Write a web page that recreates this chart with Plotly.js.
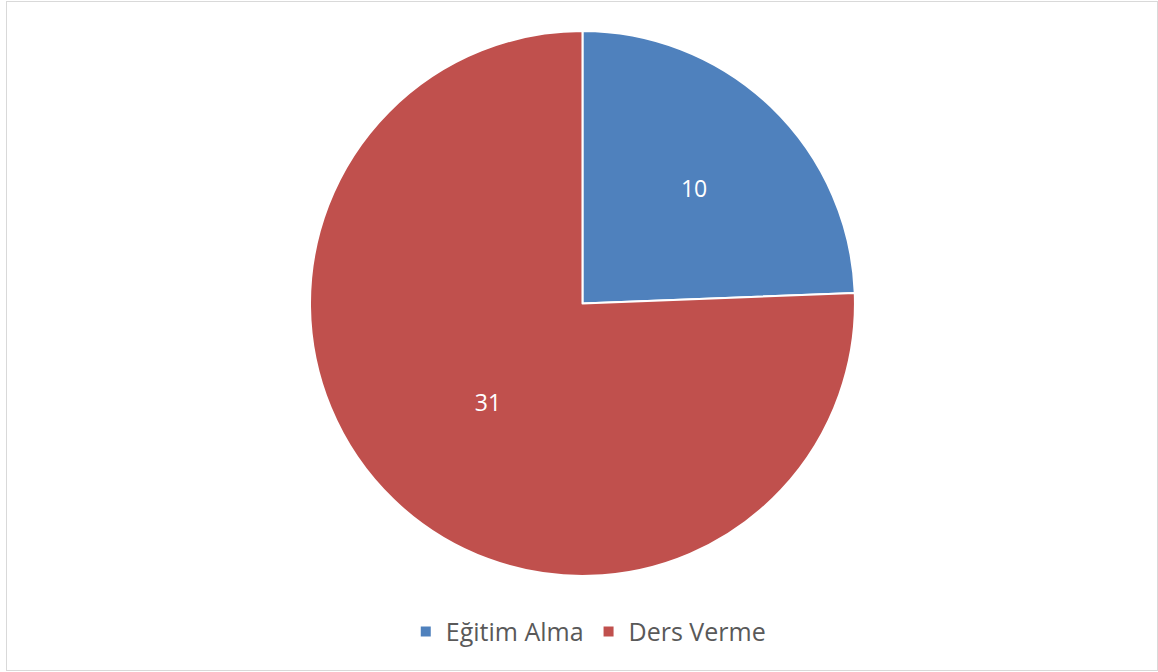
<!DOCTYPE html>
<html>
<head>
<meta charset="utf-8">
<script src="https://cdn.plot.ly/plotly-3.0.1.min.js"></script>
<style>
html,body{margin:0;padding:0;background:#fff;}
#frame{position:absolute;left:6px;top:1px;width:1150px;height:668px;border:1px solid #d9d9d9;}
#chart{position:absolute;left:0;top:0;width:1158px;height:672px;}
</style>
</head>
<body>
<div id="frame"></div>
<div id="chart"></div>
<script>
const labels = ["Eğitim Alma", "Ders Verme"];
const values = [10, 31];
const colors = ["#4F81BD", "#C0504D"];

const trace = {
  type: "pie",
  labels: labels,
  values: values,
  sort: false,
  direction: "clockwise",
  rotation: 0,
  marker: {colors: colors, line: {color: "#ffffff", width: 2}},
  textinfo: "value",
  textposition: "inside",
  insidetextorientation: "horizontal",
  textfont: {family: "Open Sans, sans-serif", size: 23, color: "#ffffff"},
  domain: {x: [0.2677, 0.7383], y: [0.1429, 0.9539]},
  hoverinfo: "label+value"
};

const layout = {
  width: 1158,
  height: 672,
  margin: {l: 0, r: 0, t: 0, b: 0},
  paper_bgcolor: "rgba(0,0,0,0)",
  plot_bgcolor: "rgba(0,0,0,0)",
  showlegend: true,
  legend: {
    orientation: "h",
    x: 0.508, xanchor: "center",
    y: 0.06, yanchor: "middle",
    font: {family: "Open Sans, sans-serif", size: 25, color: "#595959"},
    itemwidth: 30,
    tracegroupgap: 0
  }
};

Plotly.newPlot("chart", [trace], layout, {displayModeBar: false, staticPlot: true});
</script>
</body>
</html>
